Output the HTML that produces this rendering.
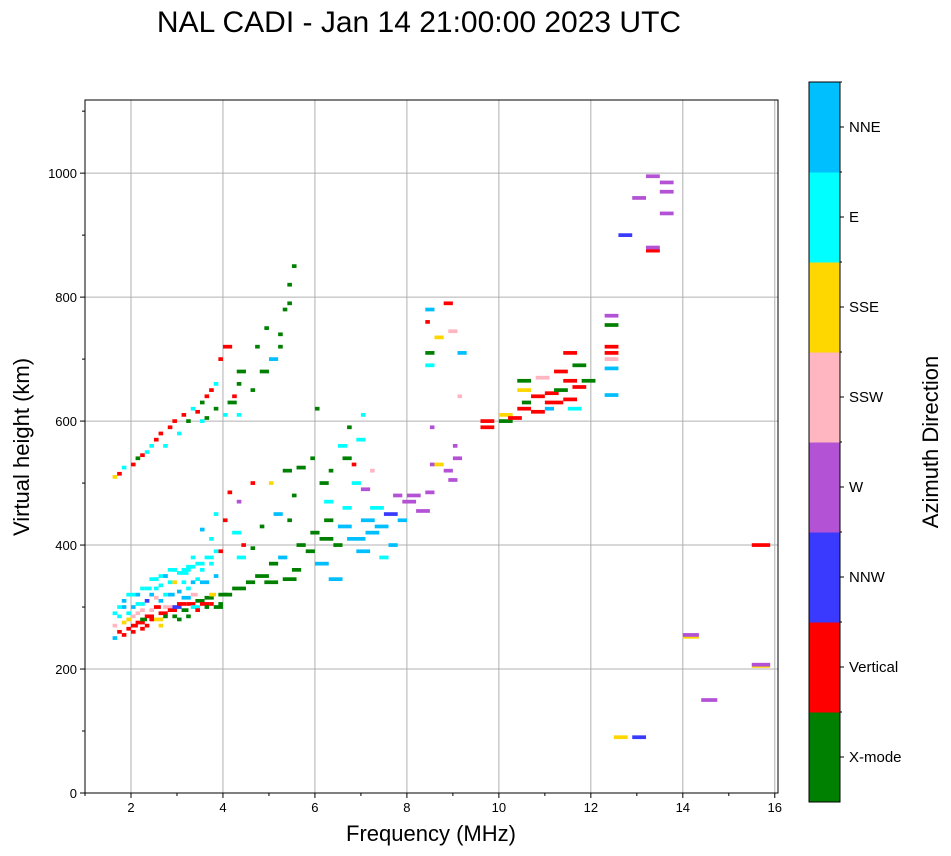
<!DOCTYPE html>
<html><head><meta charset="utf-8"><style>
body{margin:0;background:#fff;}
svg{display:block;font-family:"Liberation Sans","DejaVu Sans",sans-serif;}
</style></head><body>
<svg id="chart" width="951" height="856" viewBox="0 0 951 856">
<text x="419" y="32" font-size="30" text-anchor="middle">NAL CADI - Jan 14 21:00:00 2023 UTC</text>
<g id="grid"></g>
<g id="marks"></g>
<rect x="85" y="100" width="693" height="693" fill="none" stroke="#000" stroke-width="1"/>
<g id="axes"></g>
<text x="431" y="841" font-size="22" text-anchor="middle">Frequency (MHz)</text>
<text transform="translate(29,447) rotate(-90)" font-size="22" text-anchor="middle">Virtual height (km)</text>
<g id="cbar"></g>
<text transform="translate(938,442) rotate(-90)" font-size="22" text-anchor="middle">Azimuth Direction</text>
</svg>
<script>
const dirLabels=["X-mode","Vertical","NNW","W","SSW","SSE","E","NNE"];
const dirColors=["#008000","#ff0000","#3a3aff","#b452d6","#ffb6c1","#ffd700","#00ffff","#00bfff"];
const xTicks=[2,4,6,8,10,12,14,16];
const yTicks=[0,200,400,600,800,1000];
const freq=[1.6,1.7,1.7,1.8,1.8,1.9,1.9,2.0,2.0,2.0,2.1,2.1,2.2,2.2,2.3,2.3,2.4,2.4,2.5,2.5,2.6,2.6,2.6,2.7,2.7,2.8,2.8,2.8,2.9,2.9,3.0,3.0,3.1,3.1,3.2,3.2,3.3,3.3,3.4,3.4,3.5,3.5,3.6,3.6,3.7,3.7,3.8,3.8,3.9,3.9,2.3,2.5,2.1,3.0,3.3,3.5,3.8,
4.0,4.2,4.5,4.7,4.9,5.0,5.2,5.3,5.5,5.6,5.8,5.9,6.1,6.2,4.3,4.6,4.8,5.1,5.4,5.5,5.3,5.6,5.9,6.0,5.0,4.1,4.3,4.4,4.6,4.0,4.2,
6.0,6.3,6.2,6.4,6.5,6.6,6.7,6.8,6.9,7.0,7.1,7.2,7.3,7.4,7.5,7.6,7.7,7.8,7.9,6.5,6.7,6.9,7.0,6.3,6.8,7.2,6.6,7.0,6.1,
8.0,8.2,8.4,8.5,8.8,8.9,9.0,9.0,8.5,9.1,8.8,8.4,8.4,8.4,8.6,8.4,8.9,9.1,8.6,
9.6,9.6,10.0,10.0,10.2,10.4,10.4,10.4,10.7,10.7,10.8,11.0,11.0,11.2,11.2,11.4,11.4,11.4,11.6,11.6,11.8,11.5,12.3,12.3,12.3,12.3,12.3,12.3,12.3,10.5,11.0,
12.6,12.9,13.2,13.2,13.2,13.5,13.5,13.5,12.5,12.9,14.0,14.0,14.4,15.5,15.5,15.5,
1.6,1.7,1.8,2.0,2.1,2.2,2.4,2.5,2.6,2.7,2.8,2.9,3.0,3.1,3.2,3.3,3.4,3.5,3.6,3.7,3.8,3.9,4.0,4.1,4.2,4.3,4.0,3.5,2.3,4.3,4.6,4.8,5.0,5.2,5.3,5.4,5.5,5.4,5.2,4.7,4.9,4.3,3.8,3.6,
1.6,1.6,1.7,1.8,1.8,1.9,2.0,2.0,2.1,2.2,2.2,2.3,2.4,2.4,2.5,2.5,2.6,2.7,2.7,2.8,2.9,2.9,3.0,3.1,3.1,3.2,3.2,3.3,3.4,3.4,3.5,3.6,3.6,3.7,3.7,3.8,3.9,1.9,2.2,2.6];
const height=[270,260,285,275,300,265,290,270,300,320,275,290,305,280,285,330,295,345,280,300,290,310,350,300,285,295,320,360,300,340,305,355,295,315,305,365,300,320,310,370,305,340,315,380,320,410,300,350,320,390,310,330,305,280,340,425,450,
320,330,340,350,340,370,380,345,360,400,390,420,410,440,380,395,430,450,440,480,520,525,540,620,500,485,470,400,500,440,420,
370,345,470,400,430,460,410,500,390,440,420,460,430,380,450,400,480,440,470,560,590,570,610,520,530,520,540,490,500,
480,455,485,530,520,505,560,540,590,640,790,780,760,710,735,690,745,710,530,
600,590,600,610,605,620,650,665,615,640,670,630,645,650,680,635,665,710,655,690,665,620,770,755,720,710,700,685,642,630,620,
900,960,995,875,880,985,970,935,90,90,252,255,150,400,205,207,
510,515,525,530,540,545,560,570,580,560,590,600,580,610,600,620,615,630,640,650,660,700,720,630,640,660,610,600,550,680,650,680,700,720,780,820,850,790,740,720,750,610,620,605,
290,250,300,310,255,320,285,260,320,330,295,270,320,280,345,315,335,350,320,340,360,285,325,360,340,330,285,380,345,295,360,340,300,370,305,390,305,280,265,270];
const span=[.1,.1,.1,.1,.1,.1,.1,.15,.1,.1,.2,.1,.1,.15,.2,.15,.1,.2,.2,.15,.2,.1,.2,.2,.1,.2,.15,.2,.2,.1,.2,.25,.15,.2,.2,.2,.2,.15,.2,.2,.2,.1,.2,.2,.15,.1,.2,.1,.2,.1,.1,.1,.1,.1,.1,.1,.1,
.2,.3,.2,.3,.3,.2,.2,.3,.2,.2,.2,.2,.3,.2,.2,.1,.1,.2,.1,.1,.2,.2,.1,.1,.1,.1,.1,.1,.1,.1,.2,
.3,.3,.2,.2,.3,.2,.4,.2,.3,.3,.3,.3,.3,.2,.3,.2,.2,.2,.3,.2,.1,.2,.1,.1,.1,.1,.2,.2,.2,
.3,.3,.2,.1,.2,.2,.1,.2,.1,.1,.2,.2,.1,.2,.2,.2,.2,.2,.2,
.3,.3,.3,.3,.3,.3,.3,.3,.3,.3,.3,.4,.3,.3,.3,.3,.3,.3,.3,.3,.3,.3,.3,.3,.3,.3,.3,.3,.3,.2,.2,
.3,.3,.3,.3,.3,.3,.3,.3,.3,.3,.35,.35,.35,.4,.4,.4,
.1,.1,.1,.1,.1,.1,.1,.1,.1,.1,.1,.1,.1,.1,.1,.1,.1,.1,.1,.1,.1,.1,.2,.2,.1,.1,.1,.1,.1,.2,.1,.2,.2,.1,.1,.1,.1,.1,.1,.1,.1,.1,.1,.1,
.1,.1,.1,.1,.1,.1,.1,.1,.1,.1,.1,.1,.1,.1,.1,.1,.1,.1,.1,.1,.1,.1,.1,.2,.1,.1,.1,.1,.1,.1,.1,.1,.1,.1,.1,.1,.1,.1,.1,.1];
const dir=[4,1,6,5,7,1,6,1,7,6,1,4,6,0,1,6,4,6,5,1,1,7,6,4,0,1,7,6,2,5,1,6,0,7,1,6,6,4,0,6,1,7,0,6,5,6,0,7,0,1,2,6,6,0,7,7,6,
0,0,0,0,0,0,7,0,0,0,0,0,0,0,6,0,0,7,0,0,0,0,0,0,5,1,3,1,1,1,6,
7,7,6,0,7,6,7,6,7,7,7,6,7,6,2,7,3,7,3,6,0,6,6,0,1,4,0,3,0,
3,3,3,3,3,3,3,3,3,4,1,7,1,0,5,6,4,7,5,
1,1,0,5,1,1,5,0,1,1,4,1,1,0,1,1,1,1,1,0,0,6,3,0,1,1,4,7,7,0,7,
2,3,3,1,3,3,3,3,5,2,5,3,3,1,5,3,
5,1,6,1,0,1,6,1,1,6,1,1,6,1,0,6,1,0,1,1,6,1,1,0,1,0,6,6,6,0,0,0,7,0,0,0,0,0,0,0,0,6,0,0,
6,7,6,7,1,6,4,1,7,6,4,1,7,1,6,4,6,7,6,6,6,0,7,6,6,6,0,6,6,1,6,7,0,6,1,6,0,5,1,5];

const NS="http://www.w3.org/2000/svg";
const L=85,R=778,T=100,B=793;
const xMin=1,xMax=16.07,yMin=0,yMax=1118;
function xs(f){return L+(f-xMin)/(xMax-xMin)*(R-L);}
function ys(h){return B-(h-yMin)/(yMax-yMin)*(B-T);}
function mk(tag,attrs,parent){const e=document.createElementNS(NS,tag);for(const k in attrs)e.setAttribute(k,attrs[k]);parent.appendChild(e);return e;}
const grid=document.getElementById('grid'),axes=document.getElementById('axes'),marks=document.getElementById('marks'),cbar=document.getElementById('cbar');
xTicks.forEach(v=>{const x=xs(v);
 const g=mk('line',{x1:x,x2:x,y1:T,y2:B,stroke:'#b0b0b0','stroke-width':1},grid);
 
 
 mk('line',{x1:x,x2:x,y1:B,y2:B+5,stroke:'#000'},axes);
 const t=mk('text',{x:x,y:B+19,'font-size':13,'text-anchor':'middle'},axes);t.textContent=v;
 
 
 mk('line',{x1:xs(v-1),x2:xs(v-1),y1:B,y2:B+3,stroke:'#000'},axes);
});
yTicks.forEach(v=>{const y=ys(v);
 const g=mk('line',{x1:L,x2:R,y1:y,y2:y,stroke:'#b0b0b0','stroke-width':1},grid);
 
 
 mk('line',{x1:L-5,x2:L,y1:y,y2:y,stroke:'#000'},axes);
 const t=mk('text',{x:L-8,y:y+5,'font-size':13,'text-anchor':'end'},axes);t.textContent=v;
 
 
 mk('line',{x1:L-3,x2:L,y1:ys(v+100),y2:ys(v+100),stroke:'#000'},axes);
});
for(let i=0;i<freq.length;i++){
 const x1=xs(freq[i]),x2=xs(freq[i]+span[i]),y1=ys(height[i]+3),y2=ys(height[i]-3);
 const r=mk('rect',{x:x1,y:y1,width:Math.max(2,x2-x1),height:Math.max(2,y2-y1),fill:dirColors[dir[i]]},marks);
 
 
}
const cT=82,cB=802,cX=809,cW=31,seg=(cB-cT)/dirLabels.length;
dirLabels.forEach((lab,i)=>{
 const y=cB-(i+1)*seg;
 const r=mk('rect',{x:cX,y:y,width:cW,height:seg+0.5,fill:dirColors[i]},cbar);
 
 
 mk('line',{x1:cX+cW,x2:cX+cW+4,y1:y+seg/2,y2:y+seg/2,stroke:'#000'},cbar);
 mk('line',{x1:cX+cW,x2:cX+cW+2,y1:y,y2:y,stroke:'#000'},cbar);
 const t=mk('text',{x:cX+cW+9,y:y+seg/2+5,'font-size':15},cbar);t.textContent=lab;
 
 
});
mk('rect',{x:cX,y:cT,width:cW,height:cB-cT,fill:'none',stroke:'#000'},cbar);
</script>
</body></html>
